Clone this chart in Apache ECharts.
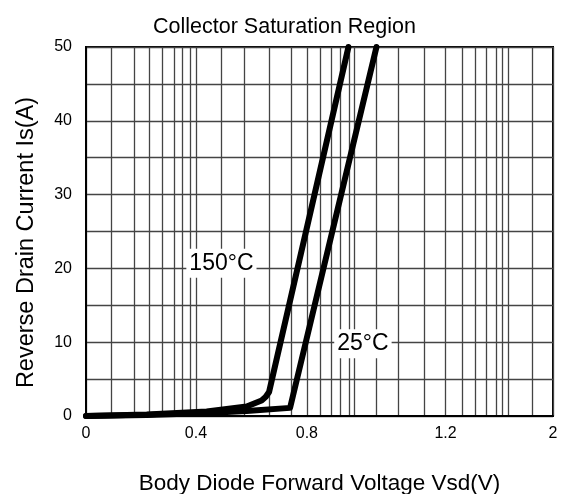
<!DOCTYPE html>
<html>
<head>
<meta charset="utf-8">
<script src="https://cdn.jsdelivr.net/npm/echarts@6/dist/echarts.min.js"></script>
<style>html,body{margin:0;padding:0;background:#fff}#c{width:569px;height:494px}</style>
</head>
<body>
<div id="c"></div>
<script>
// x values are in the chart's horizontal axis units (0 at left edge, 2 at right edge)
const xTickLabels = ['0', '0.4', '0.8', '1.2', '2'];
const xTickValues = [0, 0.471, 0.946, 1.540, 2];
const xGridValues = [0, 0.110, 0.206, 0.270, 0.327, 0.377, 0.412, 0.448, 0.471, 0.581, 0.678, 0.785, 0.878, 0.946, 1.005, 1.052, 1.091, 1.126, 1.149, 1.245, 1.337, 1.449, 1.540, 1.612, 1.666, 1.716, 1.755, 1.783, 1.809, 1.909, 2];

const hot150X = [0, 0.260, 0.517, 0.688, 0.752, 0.770, 0.784, 1.124];
const hot150Y = [0, 0.20, 0.61, 1.29, 2.10, 2.60, 3.25, 50];
const room25X = [0, 0.260, 0.517, 0.688, 0.874, 0.880, 1.244];
const room25Y = [0, 0.14, 0.41, 0.68, 1.10, 1.36, 50];

const label150 = {text: '150°C', x: 0.580, y: 20.7};
const label25 = {text: '25°C', x: 1.186, y: 9.8};

const zip = (xs, ys) => xs.map((x, i) => [x, ys[i]]);
const font = 'Liberation Sans, Arial, Helvetica, sans-serif';

const chart = echarts.init(document.getElementById('c'), null, {renderer: 'canvas'});
const tagLabel = {
  show: true, color: '#000', fontSize: 23, fontFamily: font,
  backgroundColor: '#fff', padding: [3, 3, 3, 3], formatter: p => p.name
};
chart.setOption({
  animation: false,
  backgroundColor: '#fff',
  title: {
    text: 'Collector Saturation Region', left: 'center', top: 11,
    textStyle: {fontSize: 21.5, fontWeight: 'normal', color: '#000', fontFamily: font}
  },
  grid: {
    left: 86, right: 16, top: 47, bottom: 78, show: true, borderColor: '#000', borderWidth: 2,
    containLabel: false, outerBoundsMode: 'none'
  },
  xAxis: {
    type: 'value', min: 0, max: 2,
    name: 'Body Diode Forward Voltage Vsd(V)', nameLocation: 'middle', nameGap: 56,
    nameTextStyle: {fontSize: 22.5, color: '#000', fontFamily: font},
    axisLine: {show: true, lineStyle: {color: '#000', width: 2}},
    axisTick: {show: false, customValues: xGridValues},
    axisLabel: {
      customValues: xTickValues, margin: 10, fontSize: 16, color: '#000', fontFamily: font,
      formatter: v => {
        const i = xTickValues.findIndex(t => Math.abs(t - v) < 1e-6);
        return i >= 0 ? xTickLabels[i] : '';
      }
    },
    splitLine: {show: true, lineStyle: {color: '#444', width: 1.3}}
  },
  yAxis: {
    type: 'value', min: 0, max: 50, interval: 5,
    name: 'Reverse Drain Current Is(A)', nameLocation: 'middle', nameGap: 47,
    nameTextStyle: {fontSize: 23.5, color: '#000', fontFamily: font, padding: [0, 22, 0, 0]},
    axisLine: {show: true, lineStyle: {color: '#000', width: 2}},
    axisTick: {show: false},
    axisLabel: {
      margin: 14, fontSize: 16, color: '#000', fontFamily: font,
      formatter: v => (v % 10 === 0 ? String(v) : '')
    },
    splitLine: {show: true, lineStyle: {color: '#444', width: 1.3}}
  },
  series: [
    {
      name: '150°C', type: 'line', data: zip(hot150X, hot150Y), showSymbol: false,
      lineStyle: {color: '#000', width: 6, cap: 'round', join: 'round'},
      clip: false,
      markPoint: {
        symbol: 'rect', symbolSize: 0,
        label: tagLabel,
        data: [{name: label150.text, coord: [label150.x, label150.y]}]
      }
    },
    {
      name: '25°C', type: 'line', data: zip(room25X, room25Y), showSymbol: false,
      lineStyle: {color: '#000', width: 6, cap: 'round', join: 'round'},
      clip: false,
      markPoint: {
        symbol: 'rect', symbolSize: 0,
        label: tagLabel,
        data: [{name: label25.text, coord: [label25.x, label25.y]}]
      }
    }
  ]
});
</script>
</body>
</html>
